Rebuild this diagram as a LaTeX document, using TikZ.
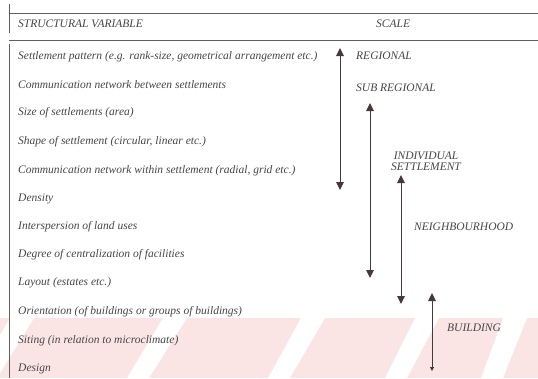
\documentclass[tikz,border=0pt]{standalone}
\usepackage{fontspec}
\setmainfont{Liberation Serif}
\usetikzlibrary{arrows.meta}
\definecolor{rule}{RGB}{95,95,95}
\definecolor{scalearrow}{RGB}{72,56,58}
\definecolor{stripe}{RGB}{251,228,228}
\definecolor{ink}{RGB}{70,70,70}
\tikzset{
  var/.style={anchor=west, inner sep=0pt, font=\fontsize{11.5}{13}\selectfont\itshape, text=ink},
  lvl/.style={anchor=west, inner sep=0pt, font=\fontsize{11.5}{13}\selectfont\itshape, text=ink, align=center},
  span/.style={draw=scalearrow, line width=1pt, {Triangle[length=8pt,width=7.5pt]}-{Triangle[length=8pt,width=7.5pt]}},
  tablerule/.style={draw=rule, line width=1pt}
}
\begin{document}
\begin{tikzpicture}[x=1pt,y=-1pt]
\useasboundingbox (0,0) rectangle (538,378);
\fill[white] (0,0) rectangle (538,378);
% tinted diagonal band behind the last rows
\fill[stripe] (0,318) rectangle (538,378);
\foreach \a/\b in {10/-25, 163/127, 301/268, 415/385, 503/481}{
  \fill[white] (\a,318) -- (\a+24,318) -- (\b+22,378) -- (\b,378) -- cycle;
}
% table rules
\draw[tablerule] (9,13) -- (538,13);
\draw[tablerule] (9,40) -- (538,40);
\draw[tablerule] (9,4) -- (9,33);
\draw[tablerule] (9,44) -- (9,378);
% header
\node[var] (hvar) at (18,24) {STRUCTURAL VARIABLE};
\node[var] (hscale) at (376,24) {SCALE};
% structural variables
\node[var] (v1) at (18,57) {Settlement pattern (e.g. rank-size, geometrical arrangement etc.)};
\node[var] (v2) at (18,85) {Communication network between settlements};
\node[var] (v3) at (18,113) {Size of settlements (area)};
\node[var] (v4) at (18,142) {Shape of settlement (circular, linear etc.)};
\node[var] (v5) at (18,171) {Communication network within settlement (radial, grid etc.)};
\node[var] (v6) at (18,199) {Density};
\node[var] (v7) at (18,227) {Interspersion of land uses};
\node[var] (v8) at (18,255) {Degree of centralization of facilities};
\node[var] (v9) at (18,283) {Layout (estates etc.)};
\node[var] (v10) at (18,312) {Orientation (of buildings or groups of buildings)};
\node[var] (v11) at (18,341) {Siting (in relation to microclimate)};
\node[var] (v12) at (18,369) {Design};
% scale levels
\node[lvl] (l1) at (356,56) {REGIONAL};
\node[lvl] (l2) at (356,88) {SUB REGIONAL};
\node[lvl] (l3) at (391,161) {INDIVIDUAL\\[-2pt]SETTLEMENT};
\node[lvl] (l4) at (414,227) {NEIGHBOURHOOD};
\node[lvl] (l5) at (447,328) {BUILDING};
% ranges of the scales
\coordinate (r1t) at (340,48);  \coordinate (r1b) at (340,190);
\coordinate (r2t) at (370,103); \coordinate (r2b) at (370,278);
\coordinate (r3t) at (401,175); \coordinate (r3b) at (401,304);
\coordinate (r4t) at (432,293); \coordinate (r4b) at (432,371);
\draw[span] (r1t) -- (r1b);
\draw[span] (r2t) -- (r2b);
\draw[span] (r3t) -- (r3b);
\draw[draw=scalearrow, line width=1pt, {Triangle[length=8pt,width=7.5pt]}-{Triangle[length=4pt,width=4pt,open]}] (r4t) -- (r4b);
\end{tikzpicture}
\end{document}
